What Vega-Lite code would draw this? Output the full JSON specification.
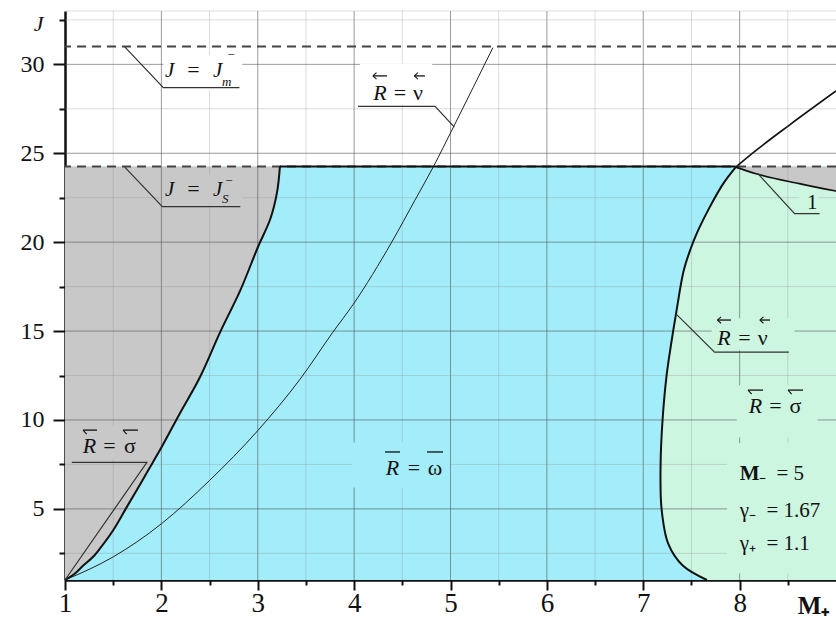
{
  "$schema": "https://vega.github.io/schema/vega-lite/v6.json",
  "width": 771,
  "height": 569,
  "autosize": {"type": "none"},
  "padding": {"left": 65, "top": 11, "right": 0, "bottom": 41},
  "background": "white",
  "config": {"view": {"stroke": null}, "font": "Liberation Serif"},
  "datasets": {
    "band": [{"x": 1, "x2": 9, "J": 1, "J2": 24.25}],
    "left": [
      {"x": 1.0, "J": 1.0}, {"x": 1.1, "J": 1.35}, {"x": 1.19, "J": 1.81}, {"x": 1.3, "J": 2.35},
      {"x": 1.36, "J": 2.75}, {"x": 1.5, "J": 3.8}, {"x": 1.63, "J": 5.0}, {"x": 1.75, "J": 6.1},
      {"x": 1.85, "J": 7.05}, {"x": 2.0, "J": 8.45}, {"x": 2.19, "J": 10.35}, {"x": 2.4, "J": 12.4},
      {"x": 2.61, "J": 14.94}, {"x": 2.82, "J": 17.3}, {"x": 3.0, "J": 19.7}, {"x": 3.13, "J": 21.3},
      {"x": 3.2, "J": 22.8}, {"x": 3.23, "J": 24.25}
    ],
    "right": [
      {"x": 7.66, "J": 1.0}, {"x": 7.41, "J": 1.81}, {"x": 7.26, "J": 3.03}, {"x": 7.19, "J": 5.0},
      {"x": 7.18, "J": 7.53}, {"x": 7.2, "J": 9.97}, {"x": 7.24, "J": 12.4}, {"x": 7.29, "J": 14.3},
      {"x": 7.34, "J": 15.97}, {"x": 7.42, "J": 18.4}, {"x": 7.49, "J": 19.6}, {"x": 7.56, "J": 20.55},
      {"x": 7.69, "J": 21.97}, {"x": 7.83, "J": 23.29}, {"x": 7.96, "J": 24.22}
    ],
    "nu": [
      {"x": 1.0, "J": 1.0}, {"x": 1.5, "J": 2.3}, {"x": 2.0, "J": 4.16}, {"x": 2.5, "J": 6.6},
      {"x": 3.0, "J": 9.4}, {"x": 3.44, "J": 12.3}, {"x": 3.78, "J": 14.94}, {"x": 3.99, "J": 16.5},
      {"x": 4.39, "J": 20.0}, {"x": 4.63, "J": 22.35}, {"x": 4.82, "J": 24.22}, {"x": 5.03, "J": 26.47},
      {"x": 5.44, "J": 30.94}
    ],
    "upper": [
      {"x": 7.96, "J": 24.22}, {"x": 8.17, "J": 25.16}, {"x": 8.52, "J": 26.6}, {"x": 9.0, "J": 28.5}
    ],
    "line1": [
      {"x": 7.96, "J": 24.22}, {"x": 8.17, "J": 23.85}, {"x": 8.62, "J": 23.29}, {"x": 9.0, "J": 22.87}
    ],
    "top": [{"x": 3.23, "x2": 7.96, "J": 24.25}],
    "levels": [{"J": 31.0}, {"J": 24.25}],
    "leaders": [
      {"id": "jm", "i": 0, "x": 1.62, "J": 30.98}, {"id": "jm", "i": 1, "x": 2.02, "J": 28.69}, {"id": "jm", "i": 2, "x": 2.81, "J": 28.69},
      {"id": "js", "i": 0, "x": 1.62, "J": 24.22}, {"id": "js", "i": 1, "x": 2.01, "J": 22.0}, {"id": "js", "i": 2, "x": 2.82, "J": 22.0},
      {"id": "nuT", "i": 0, "x": 5.04, "J": 26.47}, {"id": "nuT", "i": 1, "x": 4.84, "J": 27.64}, {"id": "nuT", "i": 2, "x": 4.04, "J": 27.64},
      {"id": "sigL", "i": 0, "x": 1.0, "J": 1.0}, {"id": "sigL", "i": 1, "x": 1.85, "J": 7.62}, {"id": "sigL", "i": 2, "x": 1.07, "J": 7.62},
      {"id": "nuR", "i": 0, "x": 7.34, "J": 15.97}, {"id": "nuR", "i": 1, "x": 7.74, "J": 13.81}, {"id": "nuR", "i": 2, "x": 8.51, "J": 13.81},
      {"id": "one", "i": 0, "x": 8.19, "J": 23.85}, {"id": "one", "i": 1, "x": 8.57, "J": 21.6}, {"id": "one", "i": 2, "x": 8.83, "J": 21.6}
    ],
    "labelbg": [
      {"region": "white", "x": 2.02, "x2": 2.84, "J": 28.54, "J2": 30.51},
      {"region": "white", "x": 4.06, "x2": 4.81, "J": 27.76, "J2": 30.05},
      {"region": "gray", "x": 2.02, "x2": 2.84, "J": 22.08, "J2": 23.76},
      {"region": "gray", "x": 1.1, "x2": 1.8, "J": 7.83, "J2": 9.69},
      {"region": "cyan", "x": 3.98, "x2": 4.99, "J": 6.2, "J2": 8.73},
      {"region": "green", "x": 7.71, "x2": 8.57, "J": 13.92, "J2": 15.72},
      {"region": "green", "x": 7.97, "x2": 8.81, "J": 9.02, "J2": 11.95},
      {"region": "green", "x": 7.87, "x2": 9.0, "J": 1.37, "J2": 8.69},
      {"region": "green", "x": 8.62, "x2": 8.82, "J": 21.8, "J2": 23.0}
    ],
    "gridx": [
      {"x": 2, "w": "major"}, {"x": 3, "w": "major"}, {"x": 4, "w": "major"}, {"x": 5, "w": "major"},
      {"x": 6, "w": "major"}, {"x": 7, "w": "major"}, {"x": 8, "w": "major"},
      {"x": 1.5, "w": "minor"}, {"x": 2.5, "w": "minor"}, {"x": 3.5, "w": "minor"}, {"x": 4.5, "w": "minor"},
      {"x": 5.5, "w": "minor"}, {"x": 6.5, "w": "minor"}, {"x": 7.5, "w": "minor"}, {"x": 8.5, "w": "minor"}
    ],
    "gridy": [
      {"J": 5, "w": "major"}, {"J": 10, "w": "major"}, {"J": 15, "w": "major"}, {"J": 20, "w": "major"},
      {"J": 25, "w": "major"}, {"J": 30, "w": "major"},
      {"J": 2.5, "w": "minor"}, {"J": 7.5, "w": "minor"}, {"J": 12.5, "w": "minor"}, {"J": 17.5, "w": "minor"},
      {"J": 22.5, "w": "minor"}, {"J": 27.5, "w": "minor"}, {"J": 32.5, "w": "minor"}, {"J": 33, "w": "minor"}
    ],
    "jletters": [
      {"x": 2.038, "J": 29.29, "t": "J"}, {"x": 2.536, "J": 29.29, "t": "J"},
      {"x": 2.038, "J": 22.59, "t": "J"}, {"x": 2.536, "J": 22.59, "t": "J"}
    ],
    "jscripts": [
      {"x": 2.629, "J": 28.78, "t": "m"},
      {"x": 2.675, "J": 30.3, "t": "\u2212"},
      {"x": 2.629, "J": 22.2, "t": "S"},
      {"x": 2.655, "J": 23.21, "t": "\u2212"}
    ],
    "rletters": [
      {"x": 4.268, "J": 27.99}, {"x": 1.254, "J": 8.14}, {"x": 4.398, "J": 6.906},
      {"x": 7.838, "J": 14.22}, {"x": 8.165, "J": 10.39}
    ],
    "rsymbols": [
      {"x": 2.333, "J": 29.29, "t": "="}, {"x": 2.333, "J": 22.59, "t": "="},
      {"x": 4.476, "J": 27.99, "t": "="}, {"x": 4.662, "J": 27.99, "t": "\u03bd"},
      {"x": 1.462, "J": 8.14, "t": "="}, {"x": 1.674, "J": 8.14, "t": "\u03c3"},
      {"x": 4.621, "J": 6.906, "t": "="}, {"x": 4.839, "J": 6.906, "t": "\u03c9"},
      {"x": 8.051, "J": 14.22, "t": "="}, {"x": 8.24, "J": 14.22, "t": "\u03bd"},
      {"x": 8.372, "J": 10.39, "t": "="}, {"x": 8.58, "J": 10.39, "t": "\u03c3"}
    ],
    "bars": [
      {"x": 4.32, "x2": 4.476, "J": 8.2}, {"x": 4.756, "x2": 4.922, "J": 8.2},
      {"x": 1.187, "x2": 1.332, "J": 9.43}, {"x": 1.602, "x2": 1.757, "J": 9.43},
      {"x": 8.087, "x2": 8.243, "J": 11.68}, {"x": 8.502, "x2": 8.658, "J": 11.68},
      {"x": 4.195, "x2": 4.34, "J": 29.35}, {"x": 4.625, "x2": 4.735, "J": 29.35},
      {"x": 7.77, "x2": 7.91, "J": 15.62}, {"x": 8.21, "x2": 8.315, "J": 15.62}
    ],
    "barbs": [
      {"x": 1.187, "x2": 1.225, "J": 9.43, "J2": 9.2}, {"x": 1.602, "x2": 1.64, "J": 9.43, "J2": 9.2},
      {"x": 8.087, "x2": 8.125, "J": 11.68, "J2": 11.45}, {"x": 8.502, "x2": 8.54, "J": 11.68, "J2": 11.45},
      {"x": 4.195, "x2": 4.232, "J": 29.35, "J2": 29.53}, {"x": 4.195, "x2": 4.232, "J": 29.35, "J2": 29.17},
      {"x": 4.625, "x2": 4.662, "J": 29.35, "J2": 29.53}, {"x": 4.625, "x2": 4.662, "J": 29.35, "J2": 29.17},
      {"x": 7.77, "x2": 7.807, "J": 15.62, "J2": 15.8}, {"x": 7.77, "x2": 7.807, "J": 15.62, "J2": 15.44},
      {"x": 8.21, "x2": 8.247, "J": 15.62, "J2": 15.8}, {"x": 8.21, "x2": 8.247, "J": 15.62, "J2": 15.44}
    ],
    "paramsBold": [{"x": 8.0, "J": 6.6, "t": "M"}],
    "params": [
      {"x": 8.2, "J": 6.6, "t": "\u208b\u2002= 5"},
      {"x": 8.0, "J": 4.55, "t": "\u03b3\u208b\u2002= 1.67"},
      {"x": 8.0, "J": 2.7, "t": "\u03b3\u208a\u2002= 1.1"},
      {"x": 8.699, "J": 21.85, "t": "1"}
    ]
  },
  "resolve": {"scale": {"color": "independent", "opacity": "independent"}},
  "layer": [
    {
      "data": {"name": "band"},
      "mark": {"type": "rect", "color": "#a2edf9"},
      "encoding": {
        "x": {
          "field": "x", "type": "quantitative",
          "scale": {"domain": [1, 9], "nice": false, "zero": false},
          "axis": {
            "title": "M\u208a",
            "values": [1, 1.5, 2, 2.5, 3, 3.5, 4, 4.5, 5, 5.5, 6, 6.5, 7, 7.5, 8, 8.5],
            "labelExpr": "datum.value % 1 ? '' : format(datum.value, 'd')",
            "tickSize": {"condition": {"test": "datum.value % 1 === 0", "value": 10}, "value": 5},
            "tickWidth": 2, "tickColor": "#111",
            "domainColor": "#111", "domainWidth": 2.5,
            "labelFont": "Liberation Serif", "labelFontSize": 27, "labelColor": "#111",
            "labelPadding": 0, "labelFlush": false, "labelOverlap": false,
            "grid": false,
            "titleFont": "Liberation Serif", "titleFontSize": 25, "titleFontWeight": "bold", "titleColor": "#111",
            "titleX": 748, "titleY": 33, "titleAlign": "center", "titleBaseline": "alphabetic"
          }
        },
        "x2": {"field": "x2"},
        "y": {
          "field": "J", "type": "quantitative",
          "scale": {"domain": [1, 33], "nice": false, "zero": false},
          "axis": {
            "title": "J",
            "values": [2.5, 5, 7.5, 10, 12.5, 15, 17.5, 20, 22.5, 25, 27.5, 30, 32.5],
            "labelExpr": "datum.value % 5 ? '' : format(datum.value, 'd')",
            "tickSize": {"condition": {"test": "datum.value % 5 === 0", "value": 12}, "value": 6},
            "tickWidth": 2, "tickColor": "#111",
            "domainColor": "#111", "domainWidth": 2.5,
            "labelFont": "Liberation Serif", "labelFontSize": 24, "labelColor": "#111",
            "labelPadding": 9, "labelFlush": false, "labelOverlap": false,
            "grid": false,
            "titleFont": "Liberation Serif", "titleFontSize": 22, "titleFontStyle": "italic", "titleFontWeight": "normal",
            "titleColor": "#111", "titleAngle": 0, "titleX": -27, "titleY": 12,
            "titleAlign": "center", "titleBaseline": "middle"
          }
        },
        "y2": {"field": "J2"}
      }
    },
    {
      "data": {"name": "left"},
      "mark": {"type": "area", "orient": "horizontal", "color": "#c8c8c8", "interpolate": "catmull-rom"},
      "encoding": {
        "y": {"field": "J", "type": "quantitative"},
        "x": {"field": "x", "type": "quantitative"},
        "x2": {"datum": 1}
      }
    },
    {
      "data": {"name": "right"},
      "mark": {"type": "area", "orient": "horizontal", "color": "#cdf6e1", "interpolate": "catmull-rom"},
      "encoding": {
        "y": {"field": "J", "type": "quantitative"},
        "x": {"field": "x", "type": "quantitative"},
        "x2": {"datum": 9}
      }
    },
    {
      "data": {"name": "line1"},
      "mark": {"type": "area", "color": "#c8c8c8", "interpolate": "monotone"},
      "encoding": {
        "x": {"field": "x", "type": "quantitative"},
        "y": {"field": "J", "type": "quantitative"},
        "y2": {"datum": 24.25}
      }
    },
    {
      "data": {"name": "gridx"},
      "mark": {"type": "rule", "strokeWidth": 1},
      "encoding": {
        "x": {"field": "x", "type": "quantitative"},
        "color": {"field": "w", "type": "nominal", "scale": {"domain": ["major", "minor"], "range": ["#4a4a4a", "#8a8a8a"]}, "legend": null},
        "opacity": {"field": "w", "type": "nominal", "scale": {"domain": ["major", "minor"], "range": [0.55, 0.3]}, "legend": null}
      }
    },
    {
      "data": {"name": "gridy"},
      "mark": {"type": "rule", "strokeWidth": 1},
      "encoding": {
        "y": {"field": "J", "type": "quantitative"},
        "color": {"field": "w", "type": "nominal", "scale": {"domain": ["major", "minor"], "range": ["#4a4a4a", "#8a8a8a"]}, "legend": null},
        "opacity": {"field": "w", "type": "nominal", "scale": {"domain": ["major", "minor"], "range": [0.55, 0.3]}, "legend": null}
      }
    },
    {
      "data": {"name": "labelbg"},
      "mark": {"type": "rect"},
      "encoding": {
        "x": {"field": "x", "type": "quantitative"},
        "x2": {"field": "x2"},
        "y": {"field": "J", "type": "quantitative"},
        "y2": {"field": "J2"},
        "color": {"field": "region", "type": "nominal", "scale": {"domain": ["white", "gray", "cyan", "green"], "range": ["#ffffff", "#c8c8c8", "#a2edf9", "#cdf6e1"]}, "legend": null}
      }
    },
    {
      "data": {"name": "levels"},
      "mark": {"type": "rule", "color": "#444", "strokeWidth": 2, "strokeDash": [9, 6]},
      "encoding": {"y": {"field": "J", "type": "quantitative"}}
    },
    {
      "data": {"name": "nu"},
      "mark": {"type": "line", "color": "#222", "strokeWidth": 1, "interpolate": "monotone"},
      "encoding": {
        "x": {"field": "x", "type": "quantitative"},
        "y": {"field": "J", "type": "quantitative"}
      }
    },
    {
      "data": {"name": "left"},
      "mark": {"type": "line", "color": "#111", "strokeWidth": 2, "interpolate": "catmull-rom"},
      "encoding": {
        "x": {"field": "x", "type": "quantitative"},
        "y": {"field": "J", "type": "quantitative"},
        "order": {"field": "J", "type": "quantitative"}
      }
    },
    {
      "data": {"name": "right"},
      "mark": {"type": "line", "color": "#111", "strokeWidth": 2, "interpolate": "catmull-rom"},
      "encoding": {
        "x": {"field": "x", "type": "quantitative"},
        "y": {"field": "J", "type": "quantitative"},
        "order": {"field": "J", "type": "quantitative"}
      }
    },
    {
      "data": {"name": "top"},
      "mark": {"type": "rule", "color": "#111", "strokeWidth": 2},
      "encoding": {
        "x": {"field": "x", "type": "quantitative"},
        "x2": {"field": "x2"},
        "y": {"field": "J", "type": "quantitative"}
      }
    },
    {
      "data": {"name": "upper"},
      "mark": {"type": "line", "color": "#111", "strokeWidth": 1.6, "interpolate": "monotone"},
      "encoding": {
        "x": {"field": "x", "type": "quantitative"},
        "y": {"field": "J", "type": "quantitative"}
      }
    },
    {
      "data": {"name": "line1"},
      "mark": {"type": "line", "color": "#111", "strokeWidth": 1.6, "interpolate": "monotone"},
      "encoding": {
        "x": {"field": "x", "type": "quantitative"},
        "y": {"field": "J", "type": "quantitative"}
      }
    },
    {
      "data": {"name": "leaders"},
      "mark": {"type": "line", "color": "#333", "strokeWidth": 1.2},
      "encoding": {
        "x": {"field": "x", "type": "quantitative"},
        "y": {"field": "J", "type": "quantitative"},
        "detail": {"field": "id", "type": "nominal"},
        "order": {"field": "i", "type": "quantitative"}
      }
    },
    {
      "data": {"name": "bars"},
      "mark": {"type": "rule", "color": "#111", "strokeWidth": 1.3},
      "encoding": {
        "x": {"field": "x", "type": "quantitative"},
        "x2": {"field": "x2"},
        "y": {"field": "J", "type": "quantitative"}
      }
    },
    {
      "data": {"name": "barbs"},
      "mark": {"type": "rule", "color": "#111", "strokeWidth": 1.1},
      "encoding": {
        "x": {"field": "x", "type": "quantitative"},
        "x2": {"field": "x2"},
        "y": {"field": "J", "type": "quantitative"},
        "y2": {"field": "J2"}
      }
    },
    {
      "data": {"name": "jletters"},
      "mark": {"type": "text", "font": "Liberation Serif", "fontSize": 21, "fontStyle": "italic", "align": "left", "baseline": "alphabetic", "color": "#111"},
      "encoding": {
        "x": {"field": "x", "type": "quantitative"},
        "y": {"field": "J", "type": "quantitative"},
        "text": {"field": "t"}
      }
    },
    {
      "data": {"name": "jscripts"},
      "mark": {"type": "text", "font": "Liberation Serif", "fontSize": 13, "fontStyle": "italic", "align": "left", "baseline": "alphabetic", "color": "#111"},
      "encoding": {
        "x": {"field": "x", "type": "quantitative"},
        "y": {"field": "J", "type": "quantitative"},
        "text": {"field": "t"}
      }
    },
    {
      "data": {"name": "rletters"},
      "mark": {"type": "text", "font": "Liberation Serif", "fontSize": 22, "fontStyle": "italic", "align": "center", "baseline": "alphabetic", "color": "#111", "text": "R"},
      "encoding": {
        "x": {"field": "x", "type": "quantitative"},
        "y": {"field": "J", "type": "quantitative"}
      }
    },
    {
      "data": {"name": "rsymbols"},
      "mark": {"type": "text", "font": "Liberation Serif", "fontSize": 22, "align": "center", "baseline": "alphabetic", "color": "#111"},
      "encoding": {
        "x": {"field": "x", "type": "quantitative"},
        "y": {"field": "J", "type": "quantitative"},
        "text": {"field": "t"}
      }
    },
    {
      "data": {"name": "paramsBold"},
      "mark": {"type": "text", "font": "Liberation Serif", "fontSize": 21, "fontWeight": "bold", "align": "left", "baseline": "alphabetic", "color": "#111"},
      "encoding": {
        "x": {"field": "x", "type": "quantitative"},
        "y": {"field": "J", "type": "quantitative"},
        "text": {"field": "t"}
      }
    },
    {
      "data": {"name": "params"},
      "mark": {"type": "text", "font": "Liberation Serif", "fontSize": 21, "align": "left", "baseline": "alphabetic", "color": "#111"},
      "encoding": {
        "x": {"field": "x", "type": "quantitative"},
        "y": {"field": "J", "type": "quantitative"},
        "text": {"field": "t"}
      }
    }
  ]
}
